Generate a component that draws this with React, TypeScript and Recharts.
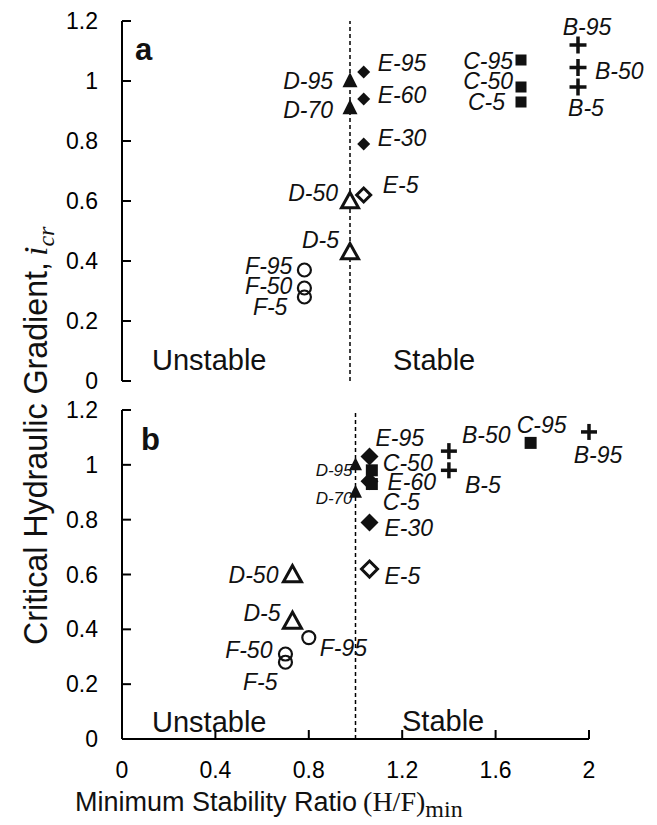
import React from 'react';
import { ScatterChart, Scatter, XAxis, YAxis, ReferenceLine } from 'recharts';

// axis ticks
const xTicks = [0, 0.4, 0.8, 1.2, 1.6, 2];
const yTicks = [0, 0.2, 0.4, 0.6, 0.8, 1, 1.2];
const stableBoundary = 1;

// panel a
const aB = [
  { name: 'B-95', x: 2.0, y: 1.12 },
  { name: 'B-50', x: 2.0, y: 1.045 },
  { name: 'B-5', x: 2.0, y: 0.98 },
];
const aC = [
  { name: 'C-95', x: 1.75, y: 1.07 },
  { name: 'C-50', x: 1.75, y: 0.98 },
  { name: 'C-5', x: 1.75, y: 0.93 },
];
const aDFilled = [
  { name: 'D-95', x: 1.0, y: 1.0 },
  { name: 'D-70', x: 1.0, y: 0.91 },
];
const aDOpen = [
  { name: 'D-50', x: 1.0, y: 0.6 },
  { name: 'D-5', x: 1.0, y: 0.43 },
];
const aEFilled = [
  { name: 'E-95', x: 1.06, y: 1.03 },
  { name: 'E-60', x: 1.06, y: 0.94 },
  { name: 'E-30', x: 1.06, y: 0.79 },
];
const aEOpen = [{ name: 'E-5', x: 1.06, y: 0.62 }];
const aF = [
  { name: 'F-95', x: 0.8, y: 0.37 },
  { name: 'F-50', x: 0.8, y: 0.31 },
  { name: 'F-5', x: 0.8, y: 0.28 },
];

// panel b
const bB = [
  { name: 'B-95', x: 2.0, y: 1.12 },
  { name: 'B-50', x: 1.4, y: 1.05 },
  { name: 'B-5', x: 1.4, y: 0.98 },
];
const bC = [
  { name: 'C-95', x: 1.75, y: 1.08 },
  { name: 'C-50', x: 1.07, y: 0.98 },
  { name: 'C-5', x: 1.07, y: 0.93 },
];
const bDFilled = [
  { name: 'D-95', x: 1.0, y: 1.0 },
  { name: 'D-70', x: 1.0, y: 0.9 },
];
const bDOpen = [
  { name: 'D-50', x: 0.73, y: 0.6 },
  { name: 'D-5', x: 0.73, y: 0.43 },
];
const bEFilled = [
  { name: 'E-95', x: 1.06, y: 1.03 },
  { name: 'E-60', x: 1.06, y: 0.94 },
  { name: 'E-30', x: 1.06, y: 0.79 },
];
const bEOpen = [{ name: 'E-5', x: 1.06, y: 0.62 }];
const bF = [
  { name: 'F-95', x: 0.8, y: 0.37 },
  { name: 'F-50', x: 0.7, y: 0.31 },
  { name: 'F-5', x: 0.7, y: 0.28 },
];

type Anchor = 'start' | 'middle' | 'end';
type LabelPos = Record<string, [number, number, Anchor, number?]>;

// label offsets from the marker centre (px)
const labelPosA: LabelPos = {
  'B-95': [9, -18, 'middle'],
  'B-50': [17, 3, 'start'],
  'B-5': [8, 21, 'middle'],
  'C-95': [-8, 1, 'end'],
  'C-50': [-8, -6, 'end'],
  'C-5': [-16, 0, 'end'],
  'D-95': [-17, 0, 'end'],
  'D-70': [-17, 2, 'end'],
  'D-50': [-12, -8, 'end'],
  'D-5': [-11, -12, 'end'],
  'E-95': [14, -9, 'start'],
  'E-60': [14, -4, 'start'],
  'E-30': [14, -6, 'start'],
  'E-5': [19, -10, 'start'],
  'F-95': [-12, -4, 'end'],
  'F-50': [-12, -2, 'end'],
  'F-5': [-17, 10, 'end'],
};
const labelPosB: LabelPos = {
  'B-95': [9, 23, 'middle'],
  'B-50': [13, -16, 'start'],
  'B-5': [16, 15, 'start'],
  'C-95': [11, -18, 'middle'],
  'C-50': [11, -7, 'start'],
  'C-5': [11, 18, 'start'],
  'D-95': [-3, 6, 'end', 17],
  'D-70': [-3, 6, 'end', 17],
  'D-50': [-14, 0, 'end'],
  'D-5': [-12, -8, 'end'],
  'E-95': [6, -19, 'start'],
  'E-60': [18, 1, 'start'],
  'E-30': [15, 6, 'start'],
  'E-5': [15, 7, 'start'],
  'F-95': [11, 10, 'start'],
  'F-50': [-13, -4, 'end'],
  'F-5': [-8, 20, 'end'],
};

const INK = '#111';
const SANS = '"Liberation Sans", Arial, Helvetica, sans-serif';
const SERIF = '"Liberation Serif", "Times New Roman", serif';

type Kind = 'plus' | 'square' | 'tri' | 'triOpen' | 'diamond' | 'diamondOpen' | 'circle';

const drawMarker = (kind: Kind, cx: number, cy: number, s: number) => {
  const h = s / 2;
  switch (kind) {
    case 'plus':
      return (
        <g stroke={INK} strokeWidth={3.5}>
          <line x1={cx - h} y1={cy} x2={cx + h} y2={cy} />
          <line x1={cx} y1={cy - h} x2={cx} y2={cy + h} />
        </g>
      );
    case 'square':
      return <rect x={cx - h} y={cy - h} width={s} height={s} fill={INK} />;
    case 'tri':
      return <polygon points={`${cx},${cy - s * 0.58} ${cx - h},${cy + s * 0.42} ${cx + h},${cy + s * 0.42}`} fill={INK} />;
    case 'triOpen':
      return (
        <polygon
          points={`${cx},${cy - s * 0.5} ${cx - h},${cy + s * 0.4} ${cx + h},${cy + s * 0.4}`}
          fill="#fff"
          stroke={INK}
          strokeWidth={3}
          strokeLinejoin="miter"
        />
      );
    case 'diamond':
      return <polygon points={`${cx},${cy - h} ${cx + h},${cy} ${cx},${cy + h} ${cx - h},${cy}`} fill={INK} />;
    case 'diamondOpen':
      return (
        <polygon
          points={`${cx},${cy - h} ${cx + h},${cy} ${cx},${cy + h} ${cx - h},${cy}`}
          fill="#fff"
          stroke={INK}
          strokeWidth={3}
        />
      );
    case 'circle':
    default:
      return <circle cx={cx} cy={cy} r={h - 1} fill="none" stroke={INK} strokeWidth={2.2} />;
  }
};

const makeShape = (kind: Kind, size: number, pos: LabelPos) => (props: any) => {
  const { cx, cy, payload } = props;
  const p = pos[payload.name] || [10, 0, 'start'];
  return (
    <g>
      <text
        x={cx + p[0]}
        y={cy + p[1]}
        textAnchor={p[2]}
        dominantBaseline="central"
        fontStyle="italic"
        fontSize={p[3] ?? 23}
        fontFamily={SANS}
        fill={INK}
      >
        {payload.name}
      </text>
      {drawMarker(kind, cx, cy, size)}
    </g>
  );
};

const axisLine = { stroke: '#000', strokeWidth: 2 };
const tickStyle = { fill: '#000', fontSize: 23, fontFamily: SANS };
const noTick = () => <g />;

const Panel: React.FC<{
  top: number;
  height: number;
  margin: { top: number; right: number; left: number; bottom: number };
  showX: boolean;
  series: { data: any[]; kind: Kind; size: number }[];
  pos: LabelPos;
}> = ({ top, height, margin, showX, series, pos }) => (
  <div style={{ position: 'absolute', left: 0, top }}>
    <ScatterChart width={657} height={height} margin={margin}>
      <XAxis
        type="number"
        dataKey="x"
        domain={[0, 2]}
        ticks={xTicks}
        interval={0}
        height={showX ? 40 : 0}
        axisLine={axisLine}
        tickLine={axisLine}
        tickSize={-9}
        tickMargin={32}
        tick={showX ? tickStyle : noTick}
      />
      <YAxis
        type="number"
        dataKey="y"
        domain={[0, 1.2]}
        ticks={yTicks}
        interval={0}
        width={122}
        axisLine={axisLine}
        tickLine={axisLine}
        tickSize={-9}
        tickMargin={33}
        tick={tickStyle}
      />
      <ReferenceLine x={stableBoundary} stroke="#000" strokeWidth={1.5} strokeDasharray="4 3" />
      {series.map((s, i) => (
        <Scatter key={i} data={s.data} dataKey="y" isAnimationActive={false} shape={makeShape(s.kind, s.size, pos)} />
      ))}
    </ScatterChart>
  </div>
);

export default function App() {
  const seriesA = [
    { data: aF, kind: 'circle' as Kind, size: 15 },
    { data: aDOpen, kind: 'triOpen' as Kind, size: 17 },
    { data: aDFilled, kind: 'tri' as Kind, size: 15 },
    { data: aEOpen, kind: 'diamondOpen' as Kind, size: 14 },
    { data: aEFilled, kind: 'diamond' as Kind, size: 13 },
    { data: aC, kind: 'square' as Kind, size: 11 },
    { data: aB, kind: 'plus' as Kind, size: 17 },
  ];
  const seriesB = [
    { data: bF, kind: 'circle' as Kind, size: 15 },
    { data: bDOpen, kind: 'triOpen' as Kind, size: 18 },
    { data: bDFilled, kind: 'tri' as Kind, size: 13 },
    { data: bEOpen, kind: 'diamondOpen' as Kind, size: 16 },
    { data: bEFilled, kind: 'diamond' as Kind, size: 18 },
    { data: bC, kind: 'square' as Kind, size: 12 },
    { data: bB, kind: 'plus' as Kind, size: 16 },
  ];
  return (
    <div style={{ position: 'absolute', left: 0, top: 0, width: 657, height: 825, background: '#fff' }}>
      <Panel top={0} height={400} margin={{ top: 21, right: 79, left: 0, bottom: 19 }} showX={false} series={seriesA} pos={labelPosA} />
      <Panel top={390} height={435} margin={{ top: 20, right: 68, left: 0, bottom: 46 }} showX series={seriesB} pos={labelPosB} />
      <svg width={657} height={825} style={{ position: 'absolute', left: 0, top: 0, pointerEvents: 'none' }}>
        <g fontFamily={SANS} fill={INK}>
          <text x={135} y={60} fontSize={31} fontWeight="bold">a</text>
          <text x={141} y={450} fontSize={31} fontWeight="bold">b</text>
          <text x={152} y={370} fontSize={29}>Unstable</text>
          <text x={393} y={370} fontSize={29}>Stable</text>
          <text x={152} y={732} fontSize={29}>Unstable</text>
          <text x={402} y={731} fontSize={29}>Stable</text>
        </g>
        <text x={75} y={811} fill={INK} fontSize={27} fontFamily={SANS}>
          Minimum Stability Ratio
          <tspan dx={6} fontFamily={SERIF} fontSize={28}>(H/F)</tspan>
          <tspan dy={6} fontFamily={SERIF} fontSize={24}>min</tspan>
        </text>
        <text transform="translate(47, 645) rotate(-90)" fill={INK} fontSize={34} fontFamily={SANS} textLength={383} lengthAdjust="spacingAndGlyphs">
          Critical Hydraulic Gradient,
        </text>
        <text transform="translate(47, 256) rotate(-90)" fill={INK} fontFamily={SERIF} fontStyle="italic">
          <tspan fontSize={34}>i</tspan>
          <tspan dy={7} fontSize={24}>cr</tspan>
        </text>
      </svg>
    </div>
  );
}
